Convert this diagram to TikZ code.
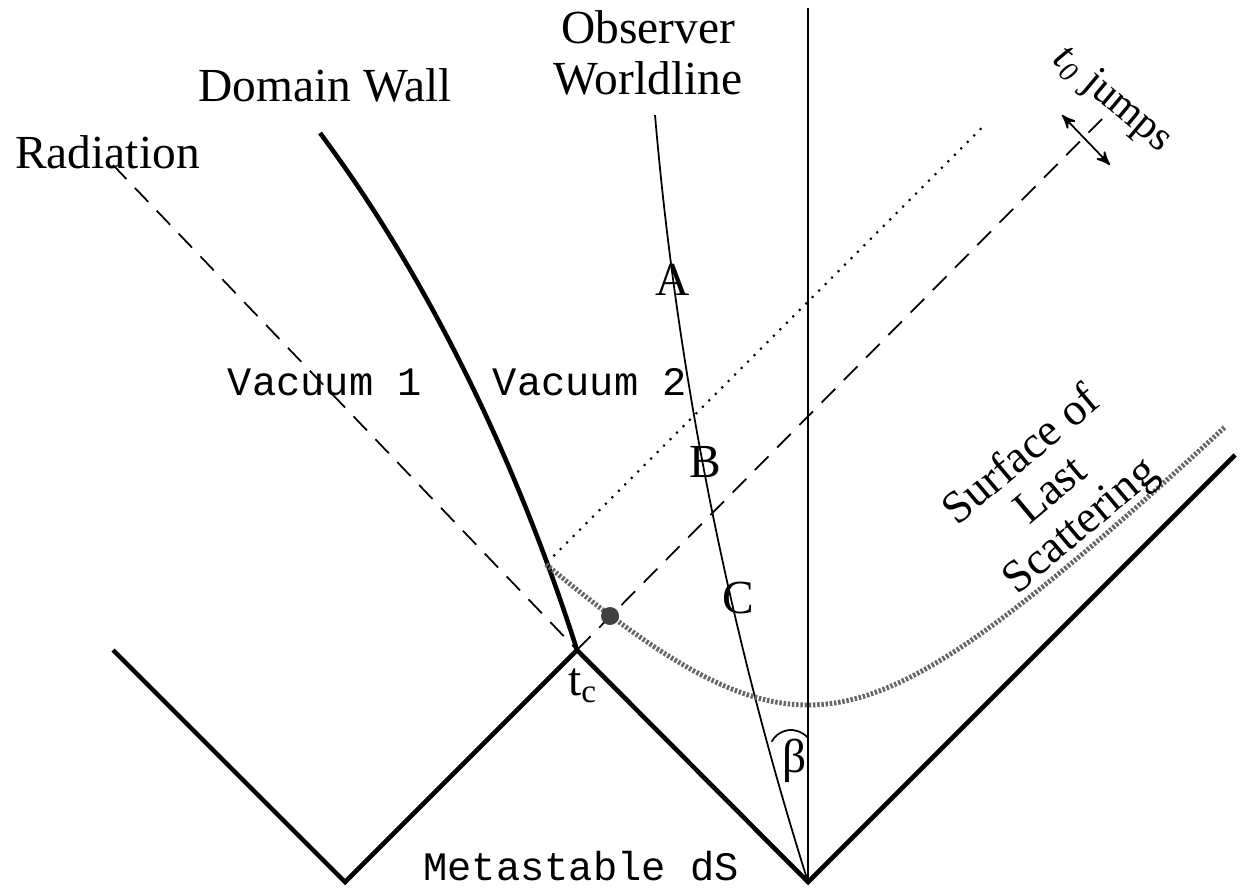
\documentclass[tikz,border=0pt]{standalone}
\usepackage{fontspec}
\setmainfont{Liberation Serif}
\setmonofont{Liberation Mono}
\usetikzlibrary{arrows, positioning, calc}

\begin{document}
\begin{tikzpicture}[
        thickline/.style={line width=1.3pt, line join=miter},
        thinline/.style={line width=0.5pt},
        ray/.style={line width=0.5pt, dash pattern=on 5.5pt off 3.5pt},
        lbl/.style={inner sep=0pt, font=\fontsize{13.5}{14.5}\selectfont},
        vac/.style={inner sep=0pt, font=\fontsize{11.5}{14}\selectfont\ttfamily}]
    \useasboundingbox (0,0) rectangle (12.42,8.94);

    % corners of the diagram
    \coordinate (lt) at (1.13,2.44);
    \coordinate (lb) at (3.45,0.12);
    \coordinate (tc) at (5.77,2.44);
    \coordinate (bv) at (8.08,0.12);
    \coordinate (rt) at (12.35,4.39);
    \coordinate (vtop) at (8.08,8.86);
    \coordinate (wtop) at (6.55,7.79);
    \coordinate (walltop) at (3.20,7.61);
    \coordinate (radtop) at (1.13,7.29);

    % light rays
    \draw[ray] (radtop) -- (tc);
    \draw[ray] (tc) -- (11.03,7.76) coordinate (jtop);

    % domain wall
    \draw[thickline] (tc) .. controls (5.19,4.26) and (4.32,6.11) .. (walltop)
        coordinate[pos=0.16] (wk);
    \draw[line width=0.6pt, dotted] (wk) -- ++(4.37,4.37);

    % metastable dS boundary
    \draw[thickline] (lt) -- (lb) -- (tc) -- (bv) -- (rt);

    % observer and vertical line
    \draw[thinline] (bv) -- (vtop);
    \draw[thinline] (bv) .. controls (7.28,2.66) and (6.77,5.22) .. (wtop);
    \draw[thinline] (7.91,1.42) ++(40:0.22) arc (40:152:0.22);

    % surface of last scattering
    \draw[line width=1.4pt, black!60, dash pattern=on 0.7pt off 0.5pt]
        plot[domain=5.46:12.25, samples=100, smooth] (\x,{1.89+sqrt(3.017+(\x-8.08)^2)-1.737});
    \fill[black!75] (6.10,2.78) circle (0.09);

    % t0 jumps arrow
    \coordinate (ja) at (10.62,7.79);
    \coordinate (jb) at (11.10,7.29);
    \draw[thinline, <->, >=stealth'] (ja) -- (jb);

    % labels
    \node[lbl, align=center] (obslbl) at (6.48,8.41) {Observer\\Worldline};
    \node[lbl, anchor=base] (walllbl) at (3.25,7.92) {Domain Wall};
    \node[lbl, anchor=base] (radlbl) at (1.075,7.26) {Radiation};
    \node[vac, anchor=base] (vac1) at (3.25,4.99) {Vacuum 1};
    \node[vac, anchor=base] (vac2) at (5.90,4.99) {Vacuum 2};
    \node[vac, anchor=base] (mds) at (5.81,0.14) {Metastable dS};
    \node[lbl, anchor=base] (ptA) at (6.73,5.99) {A};
    \node[lbl, anchor=base] (ptB) at (7.05,4.17) {B};
    \node[lbl, anchor=base] (ptC) at (7.38,2.81) {C};
    \node[lbl, anchor=base] (tclbl) at (5.83,1.99) {t\textsubscript{c}};
    \node[lbl] (betalbl) at (7.95,1.33) {β};
    \node[lbl, rotate=-40, font=\fontsize{12}{14}\selectfont]
        (jumplbl) at (11.12,7.94) {\textit{t}\textsubscript{\textit{0}} jumps};
    \node[lbl, rotate=40, align=center, font=\fontsize{13}{13}\selectfont]
        (lsslbl) at (10.52,4.02) {Surface of\\Last\\Scattering};
\end{tikzpicture}
\end{document}
